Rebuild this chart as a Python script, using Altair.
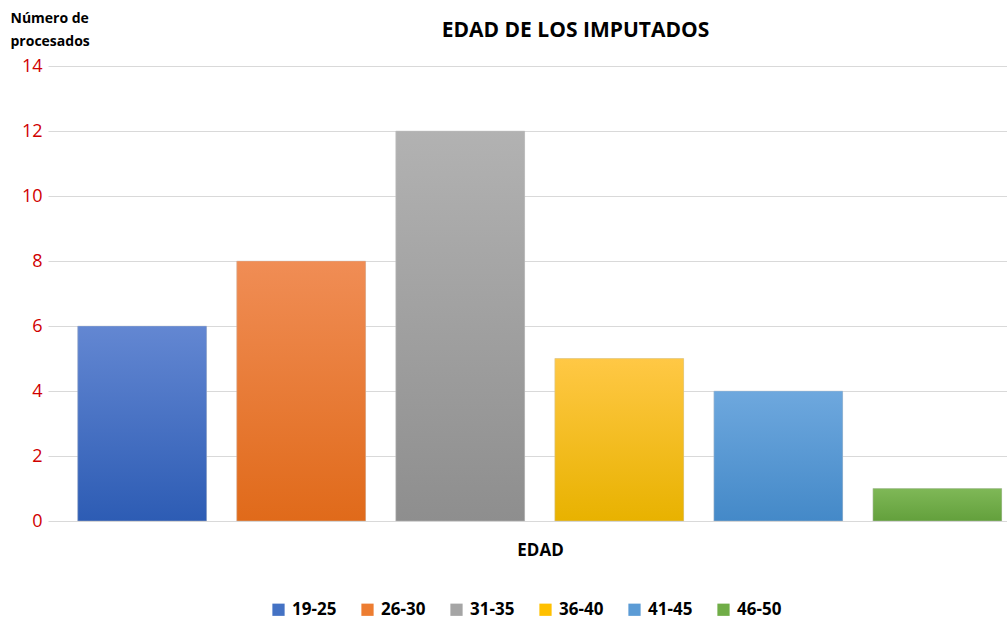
import altair as alt
import pandas as pd

categories = ["19-25", "26-30", "31-35", "36-40", "41-45", "46-50"]
counts = [6, 8, 12, 5, 4, 1]
legend_colors = ["#4472C4", "#ED7D31", "#A5A5A5", "#FFC000", "#5B9BD5", "#70AD47"]
top_colors = ["#6387D2", "#F08D55", "#B2B2B2", "#FFC845", "#6EA8DE", "#7FB857"]
bottom_colors = ["#2D5CB4", "#E06A1A", "#8E8E8E", "#E8B200", "#4489C8", "#63A03C"]

df = pd.DataFrame({"cat": categories, "n": counts})

FONT = "Open Sans"

x_enc = alt.X(
    "cat:N",
    scale=alt.Scale(domain=categories, paddingInner=0.19, paddingOuter=0.11, align=0.85),
    axis=alt.Axis(
        labels=False, ticks=False, domain=False, grid=False,
        title="EDAD", titleFont=FONT, titleFontSize=17, titleFontWeight="bold",
        titleColor="#000000", titleX=492, titleY=34, titleBaseline="alphabetic",
        titleAlign="center",
    ),
)
y_enc = alt.Y(
    "n:Q",
    scale=alt.Scale(domain=[0, 14], nice=False),
    axis=alt.Axis(
        values=[0, 2, 4, 6, 8, 10, 12, 14],
        labelColor="#D00000", labelFont=FONT, labelFontSize=18, labelPadding=6,
        ticks=False, domain=False, gridColor="#D9D9D9", gridWidth=1.2,
        title=["Número de", "procesados"], titleAngle=0, titleAlign="left",
        titleBaseline="alphabetic", titleX=-38, titleY=-44, titleFont=FONT,
        titleFontSize=14, titleFontWeight="bold", titleColor="#000000",
        titleLineHeight=23,
    ),
)

base = alt.Chart(df).mark_bar().encode(
    x=x_enc,
    y=y_enc,
    color=alt.Color(
        "cat:N",
        scale=alt.Scale(domain=categories, range=legend_colors),
        legend=alt.Legend(
            title=None, orient="none", direction="horizontal",
            legendX=222, legendY=535, symbolType="square", symbolSize=150,
            symbolStrokeWidth=0, labelFont=FONT, labelFontSize=17,
            labelFontWeight="bold", labelColor="#000000", columnPadding=22,
            labelOffset=5,
        ),
    ),
)

layers = [base]
for i, c in enumerate(categories):
    grad = alt.Gradient(
        gradient="linear",
        stops=[alt.GradientStop(color=top_colors[i], offset=0),
               alt.GradientStop(color=bottom_colors[i], offset=1)],
        x1=0, x2=0, y1=0, y2=1,
    )
    layers.append(
        alt.Chart(df).transform_filter(alt.datum.cat == c)
        .mark_bar(color=grad, stroke="#C8C8C8", strokeWidth=0.6, strokeOpacity=0.7)
        .encode(x=x_enc, y=y_enc)
    )

chart = alt.layer(*layers).properties(
    width=959,
    height=455,
    autosize=alt.AutoSizeParams(type="none"),
    padding={"left": 48, "top": 66, "right": 0, "bottom": 100},
    title=alt.TitleParams(
        "EDAD DE LOS IMPUTADOS", font=FONT, fontSize=21, fontWeight="bold",
        color="#000000", anchor="middle", dx=48, offset=-30,
    ),
).configure(background="white", view=alt.ViewConfig(stroke=None))

chart.save("out.html", embed_options={"renderer": "svg", "actions": False})
